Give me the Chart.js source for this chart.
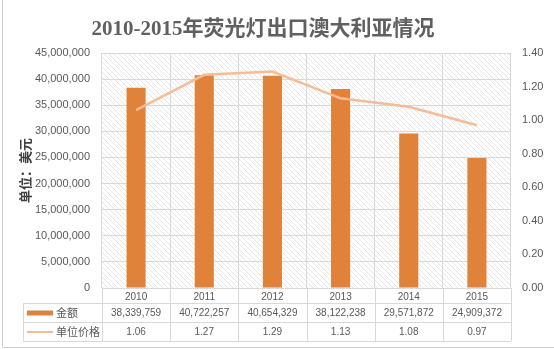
<!DOCTYPE html>
<html>
<head>
<meta charset="utf-8">
<script src="https://cdn.jsdelivr.net/npm/chart.js@4.4.1/dist/chart.umd.min.js"></script>
<style>
html,body{margin:0;padding:0;background:#fff;}
#wrap{width:554px;height:349px;position:relative;}
</style>
</head>
<body>
<div id="wrap"><canvas id="c" width="554" height="349"></canvas></div>
<script>
const years = ['2010','2011','2012','2013','2014','2015'];
const amounts = [38339759, 40722257, 40654329, 38122238, 29571872, 24909372];
const unitPrices = [1.06, 1.27, 1.29, 1.13, 1.08, 0.97];
const seriesNames = ['金额', '单位价格'];
const chartTitle = '2010-2015年荧光灯出口澳大利亚情况';
const yAxisTitle = '单位：美元';

const BAR_COLOR = '#E0823A';
const LINE_COLOR = '#F5BC98';
const GRID = '#d9d9d9';
const TEXT = '#595959';
const NUMFONT = '"Liberation Sans", Arial, sans-serif';
const CJKFONT = '"Noto Sans CJK SC", sans-serif';

function fmt(n){ return n.toLocaleString('en-US'); }

function makeHatch(ctx){
  const p = document.createElement('canvas');
  p.width = 5; p.height = 5;
  const g = p.getContext('2d');
  g.fillStyle = '#ffffff'; g.fillRect(0,0,5,5);
  g.strokeStyle = '#e6e6e6'; g.lineWidth = 1;
  g.beginPath();
  g.moveTo(-1,-1); g.lineTo(6,6);
  g.moveTo(-1,4); g.lineTo(1,6);
  g.moveTo(4,-1); g.lineTo(6,1);
  g.stroke();
  return ctx.createPattern(p,'repeat');
}

const bgPlugin = {
  id:'bg',
  beforeDraw(chart){
    const {ctx, chartArea:a} = chart;
    ctx.save();
    ctx.fillStyle = '#fff';
    ctx.fillRect(0,0,chart.width,chart.height);
    ctx.fillStyle = makeHatch(ctx);
    ctx.fillRect(a.left, a.top, a.right-a.left, a.bottom-a.top);
    ctx.restore();
  }
};

const tablePlugin = {
  id:'table',
  afterDraw(chart){
    const {ctx, chartArea:a} = chart;
    const xs = chart.scales.x;
    const row1 = a.bottom + 15, row2 = row1 + 19, row3 = row2 + 19;
    const tableLeft = 23;
    ctx.save();
    ctx.strokeStyle = GRID; ctx.lineWidth = 1;
    ctx.beginPath();
    [row1, row2, row3].forEach(y=>{ ctx.moveTo(tableLeft, y+0.5); ctx.lineTo(a.right, y+0.5); });
    ctx.moveTo(tableLeft+0.5, row1); ctx.lineTo(tableLeft+0.5, row3);
    const n = years.length;
    for(let i=0;i<=n;i++){
      const x = Math.round(i===0 ? a.left : (i===n ? a.right : (xs.getPixelForValue(i-1)+xs.getPixelForValue(i))/2))+0.5;
      ctx.moveTo(x, a.bottom); ctx.lineTo(x, row3);
    }
    ctx.stroke();
    ctx.fillStyle = TEXT;
    ctx.font = '10px ' + NUMFONT;
    ctx.textAlign = 'center'; ctx.textBaseline = 'middle';
    for(let i=0;i<n;i++){
      const x = xs.getPixelForValue(i);
      ctx.fillText(fmt(amounts[i]), x, (row1+row2)/2+1);
      ctx.fillText(unitPrices[i].toFixed(2), x, (row2+row3)/2+1);
    }
    ctx.fillStyle = BAR_COLOR;
    ctx.fillRect(27, (row1+row2)/2-2, 26, 5);
    ctx.strokeStyle = LINE_COLOR; ctx.lineWidth = 2;
    ctx.beginPath(); ctx.moveTo(27,(row2+row3)/2+0.5); ctx.lineTo(53,(row2+row3)/2+0.5); ctx.stroke();
    ctx.fillStyle = TEXT;
    ctx.font = '11px ' + CJKFONT;
    ctx.textAlign = 'left';
    ctx.fillText(seriesNames[0], 56, (row1+row2)/2);
    ctx.fillText(seriesNames[1], 56, (row2+row3)/2);
    ctx.fillStyle = '#606060';
    ctx.font = 'bold 21px "Liberation Serif", "Noto Sans CJK SC", serif';
    ctx.textAlign = 'center';
    ctx.fillText(chartTitle, 263, 30);
    ctx.strokeStyle = '#d0d0d0'; ctx.lineWidth = 1;
    ctx.beginPath();
    ctx.moveTo(2.5, 0); ctx.lineTo(2.5, 347.5); ctx.lineTo(554, 347.5);
    ctx.stroke();
    ctx.restore();
  }
};

new Chart(document.getElementById('c'), {
  data:{
    labels: years,
    datasets:[
      { type:'line', label: seriesNames[1], data: unitPrices, yAxisID:'y1',
        borderColor: LINE_COLOR, borderWidth: 2.5, pointRadius: 0, tension: 0, order: 0 },
      { type:'bar', label: seriesNames[0], data: amounts, yAxisID:'y',
        backgroundColor: BAR_COLOR, categoryPercentage: 1, barPercentage: 0.28, order: 1 }
    ]
  },
  options:{
    responsive:false,
    animation:false,
    layout:{ padding:{ top:53, left:0, right:0, bottom:0 } },
    plugins:{ legend:{display:false}, tooltip:{enabled:false}, title:{display:false} },
    scales:{
      x:{
        grid:{ color: GRID, drawTicks:false, offset:true },
        border:{ display:false },
        ticks:{ color: TEXT, font:{ family: NUMFONT, size: 10 }, padding: 3, maxRotation:0 },
        afterFit(s){ s.height = 61; }
      },
      y:{
        position:'left', min:0, max:45000000,
        ticks:{ stepSize:5000000, color: TEXT, font:{ family: NUMFONT, size: 11 }, padding: 12,
                callback:(v)=>fmt(v) },
        grid:{ color: GRID, drawTicks:false },
        border:{ display:false },
        title:{ display:true, text: yAxisTitle, color:'#404040',
                font:{ family: CJKFONT, size: 13, weight:'bold' }, padding:{ top:17, bottom:0 } },
        afterFit(s){ s.width = 102; }
      },
      y1:{
        position:'right', min:0, max:1.4,
        ticks:{ stepSize:0.2, color: TEXT, font:{ family: NUMFONT, size: 11 }, padding: 11,
                callback:(v)=>Number(v).toFixed(2) },
        grid:{ display:false, drawTicks:false },
        border:{ display:false },
        afterFit(s){ s.width = 43; }
      }
    }
  },
  plugins:[bgPlugin, tablePlugin]
});
</script>
</body>
</html>
